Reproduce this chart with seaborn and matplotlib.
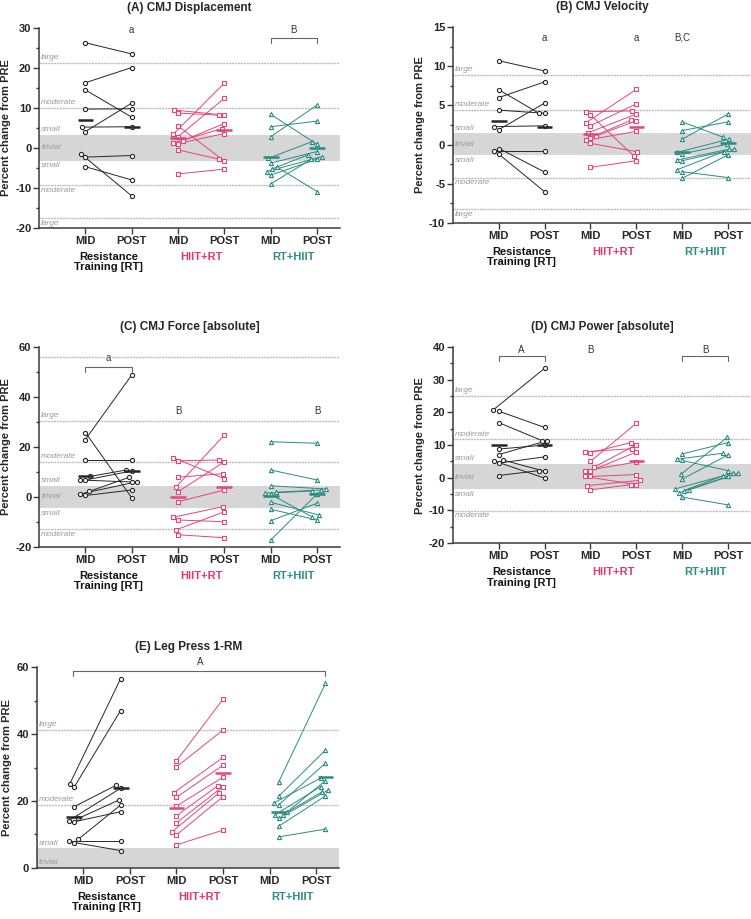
import pandas as pd
import seaborn as sns
import matplotlib.pyplot as plt
from matplotlib.ticker import MultipleLocator

sns.set_style("ticks")
plt.rcParams["font.family"] = ["Liberation Sans", "DejaVu Sans"]
plt.rcParams["font.weight"] = "bold"
plt.rcParams["axes.unicode_minus"] = False

# %%
# group names / styles
groups = ["Resistance\nTraining [RT]", "HIIT+RT", "RT+HIIT"]
timepoints = ["MID", "POST"]
group_colors = ["#262626", "#E4457A", "#2A8C83"]
label_colors = ["#111111", "#E8336F", "#2A8C83"]
group_markers = ["o", "s", "^"]

# (A) CMJ displacement - % change from PRE, paired MID/POST per participant
a_rt_mid = [26.3, 16.3, 14.5, 9.7, 5.2, 4.1, -1.5, -2.3, -4.7]
a_rt_post = [23.5, 20.1, 7.7, 9.8, 5.3, 11.2, -12.0, -1.9, -8.0]
a_hiit_mid = [9.5, 8.7, 5.5, 3.4, 2.8, 1.8, 1.2, 1.1, -0.5, -6.5]
a_hiit_post = [8.2, 8.2, -3.3, 16.2, 12.4, 6.1, 4.8, 3.6, -2.8, -5.3]
a_rth_mid = [8.4, 5.3, 2.8, -2.6, -3.8, -4.7, -5.3, -5.9, -6.8, -9.0]
a_rth_post = [0.9, 6.7, 10.7, 1.6, -0.9, -10.9, -1.7, -2.2, -2.8, -2.8]
a_centre = [[7.0, 5.3], [2.4, 4.6], [-2.2, -0.1]]

# (B) CMJ velocity
b_rt_mid = [10.7, 7.0, 6.0, 4.4, 2.3, 1.9, -0.5, -0.8, -1.2]
b_rt_post = [9.4, 4.0, 8.0, 4.0, 2.4, 5.3, -3.5, -0.8, -6.0]
b_hiit_mid = [4.2, 3.8, 2.8, 2.4, 1.5, 1.1, 0.9, 0.55, 0.16, -2.9]
b_hiit_post = [4.3, -1.45, 7.05, 5.2, 3.9, 3.05, 3.1, 1.7, -0.9, -2.05]
b_rth_mid = [2.9, 1.8, 0.7, -1.0, -1.2, -1.97, -2.05, -3.2, -3.45, -4.3]
b_rth_post = [0.93, 2.9, 3.9, 0.68, 0.04, -0.6, -0.6, -0.9, -4.2, -1.3]
b_centre = [[3.05, 2.25], [1.3, 2.2], [-1.0, 0.2]]

# (C) CMJ force [absolute]
c_rt_mid = [25.8, 23.0, 14.8, 8.2, 6.8, 6.8, 2.2, 1.2, 0.6]
c_rt_post = [-0.3, 48.8, 14.8, 10.8, 10.4, 6.0, 7.9, 6.1, 2.8]
c_hiit_mid = [15.7, 14.5, 7.9, 4.1, 2.1, -1.9, -8.1, -9.2, -13.2, -15.1]
c_hiit_post = [7.3, 14.8, 9.3, 24.8, 14.1, 2.8, -3.9, -9.9, -5.9, -16.3]
c_rth_mid = [22.1, 10.8, 4.5, 1.9, 1.5, 1.0, -2.1, -4.9, -9.5, -17.2]
c_rth_post = [21.5, 6.8, 3.2, 2.8, 2.4, -8.0, -7.2, -9.2, -2.5, 1.2]
c_centre = [[8.5, 10.4], [0.0, 3.9], [0.4, 1.1]]

# (D) CMJ power [absolute]
d_rt_mid = [20.8, 20.4, 16.9, 8.8, 7.1, 5.4, 5.2, 4.5, 0.7]
d_rt_post = [33.5, 15.4, 11.4, 10.0, 11.4, 2.0, -0.1, 6.4, 2.2]
d_hiit_mid = [8.0, 7.7, 5.0, 3.3, 2.2, 2.1, 0.4, 0.4, -2.4, -3.7]
d_hiit_post = [8.9, 10.8, 16.7, 10.1, 4.8, 7.9, 1.0, -2.1, -0.8, -2.1]
d_rth_mid = [7.3, 5.7, 5.3, 1.2, -0.4, -3.4, -3.7, -3.9, -4.6, -5.9]
d_rth_post = [10.8, 7.5, 2.2, 12.4, 7.0, 1.4, 1.4, 0.6, 0.5, -8.3]
d_centre = [[10.1, 10.0], [None, 5.2], [None, None]]

# (E) Leg press 1-RM
e_rt_mid = [25.1, 24.1, 18.3, 14.8, 14.1, 13.8, 8.6, 8.2, 7.6]
e_rt_post = [56.5, 47.0, 24.7, 20.3, 23.8, 16.8, 18.8, 8.2, 5.2]
e_hiit_mid = [32.0, 30.2, 22.5, 21.1, 18.5, 15.6, 13.5, 10.8, 9.9, 6.9]
e_hiit_post = [50.4, 41.2, 33.0, 30.7, 27.1, 24.5, 24.3, 22.5, 21.3, 11.3]
e_rth_mid = [25.8, 21.5, 18.9, 19.4, 16.8, 15.8, 15.9, 14.8, 12.5, 9.3]
e_rth_post = [55.1, 35.2, 31.3, 26.8, 26.1, 24.3, 22.8, 23.2, 21.5, 11.6]
e_centre = [[15.1, 24.0], [17.8, 28.3], [16.8, 27.2]]

# effect size thresholds (trivial band, reference lines) + labels
a_band, a_lines = (-3.2, 3.25), [10.1, -9.25, 21.2, -17.6]
b_band, b_lines = (-1.37, 1.44), [4.4, -4.2, 8.9, -8.25]
c_band, c_lines = (-4.5, 4.4), [14.1, -12.8, 30.5, 56.1]
d_band, d_lines = (-3.5, 4.2), [11.8, -10.1, 25.1]
e_band, e_lines = (0.0, 5.9), [18.8, 41.2]

a_es = [("large", 21.2, 1), ("moderate", 10.1, 1), ("small", 3.25, 1), ("trivial", 0, 0),
        ("small", -3.2, -1), ("moderate", -9.25, -1), ("large", -17.6, -1)]
b_es = [("large", 8.9, 1), ("moderate", 4.4, 1), ("small", 1.44, 1), ("trivial", 0, 0),
        ("small", -1.37, -1), ("moderate", -4.2, -1), ("large", -8.25, -1)]
c_es = [("large", 30.5, 1), ("moderate", 14.1, 1), ("small", 4.4, 1), ("trivial", 0, 0),
        ("small", -4.5, -1), ("moderate", -12.8, -1)]
d_es = [("large", 25.1, 1), ("moderate", 11.8, 1), ("small", 4.2, 1), ("trivial", 0, 0),
        ("small", -3.5, -1), ("moderate", -10.1, -1)]
e_es = [("large", 41.2, 1), ("moderate", 18.8, 1), ("small", 5.9, 1), ("trivial", 1.6, 0)]

# significance letters (x, y, text) and brackets (x0, x1, y)
a_notes, a_brackets = [(1, 29.6, "a"), (4.5, 29.5, "B")], [(4, 5, 27.6)]
b_notes, b_brackets = [(1, 13.6, "a"), (3, 13.6, "a"), (4, 13.6, "B,C")], []
c_notes, c_brackets = [(0.5, 55.6, "a"), (2, 34.4, "B"), (5, 34.4, "B")], [(0, 1, 52.1)]
d_notes, d_brackets = [(0.5, 39.0, "A"), (2, 39.0, "B"), (4.5, 39.0, "B")], [(0, 1, 37.3), (4, 5, 37.3)]
e_notes, e_brackets = [(2.5, 61.6, "A")], [(-0.23, 5.2, 58.9)]

# %%
panels = [
    dict(rect=[0.052, 0.752, 0.401, 0.2176], title="(A) CMJ Displacement", ylim=(-20, 30), major=10, minor=5,
         data=[(a_rt_mid, a_rt_post), (a_hiit_mid, a_hiit_post), (a_rth_mid, a_rth_post)],
         centre=a_centre, band=a_band, lines=a_lines, es=a_es, notes=a_notes, brackets=a_brackets,
         shift=[0, 0, 0]),
    dict(rect=[0.603, 0.7573, 0.397, 0.2133], title="(B) CMJ Velocity", ylim=(-10, 15), major=5, minor=2.5,
         data=[(b_rt_mid, b_rt_post), (b_hiit_mid, b_hiit_post), (b_rth_mid, b_rth_post)],
         centre=b_centre, band=b_band, lines=b_lines, es=b_es, notes=b_notes, brackets=b_brackets,
         shift=[0, 0, 0]),
    dict(rect=[0.052, 0.4048, 0.401, 0.2176], title="(C) CMJ Force [absolute]", ylim=(-20, 60), major=20, minor=10,
         data=[(c_rt_mid, c_rt_post), (c_hiit_mid, c_hiit_post), (c_rth_mid, c_rth_post)],
         centre=c_centre, band=c_band, lines=c_lines, es=c_es, notes=c_notes, brackets=c_brackets,
         shift=[0, 0, 0]),
    dict(rect=[0.603, 0.409, 0.397, 0.2133], title="(D) CMJ Power [absolute]", ylim=(-20, 40), major=10, minor=5,
         data=[(d_rt_mid, d_rt_post), (d_hiit_mid, d_hiit_post), (d_rth_mid, d_rth_post)],
         centre=d_centre, band=d_band, lines=d_lines, es=d_es, notes=d_notes, brackets=d_brackets,
         shift=[0, 0, 0]),
    dict(rect=[0.049, 0.0555, 0.403, 0.2187], title="(E) Leg Press 1-RM", ylim=(0, 60), major=20, minor=10,
         data=[(e_rt_mid, e_rt_post), (e_hiit_mid, e_hiit_post), (e_rth_mid, e_rth_post)],
         centre=e_centre, band=e_band, lines=e_lines, es=e_es, notes=e_notes, brackets=e_brackets,
         shift=[-0.2, 0, 0.2]),
]

fig = plt.figure(figsize=(7.51, 9.19), dpi=100)
spine_col = "#3a3a3a"
swarms = []

for p in panels:
    ax = fig.add_axes(p["rect"])
    ax.set_xlim(-1.0, 5.5)
    ax.set_ylim(*p["ylim"])

    # individual responses (swarm so that close values sit side by side)
    for g, (mid, post) in enumerate(p["data"]):
        pos = 2 * g + p["shift"][g]
        df = pd.DataFrame({"x": [pos] * len(mid) + [pos + 1] * len(post), "y": mid + post})
        n0 = len(ax.collections)
        sns.swarmplot(data=df, x="x", y="y", native_scale=True, orient="x",
                      color=group_colors[g], marker=group_markers[g], size=3.0,
                      linewidth=0.8, ax=ax, zorder=4, legend=False)
        new = ax.collections[n0:]
        for c in new:
            c.set_facecolor("white")
            c.set_edgecolor(group_colors[g])
            c.set_linewidth(0.8)
        swarms.append((ax, new[0], new[1], group_colors[g]))

        # group centre bars
        for t in range(2):
            v = p["centre"][g][t]
            if v is not None:
                ax.hlines(v, pos + t - 0.17, pos + t + 0.17, color=group_colors[g], lw=1.8, zorder=5)

    ax.set_xlim(-1.0, 5.5)
    ax.set_ylim(*p["ylim"])

    # effect size shading and lines
    ax.axhspan(*p["band"], color="#d6d6d6", lw=0, zorder=0)
    for y in p["lines"]:
        ax.axhline(y, color="#bdbdbd", lw=1.0, ls=(0, (1.5, 0.6)), zorder=1)
    for txt, y, side in p["es"]:
        va = {1: "bottom", 0: "center", -1: "top"}[side]
        ax.annotate(txt, xy=(0, y), xycoords=("axes fraction", "data"),
                    xytext=(1.5, 1.2 * side), textcoords="offset points",
                    ha="left", va=va, fontsize=6, style="italic", fontweight="normal",
                    color="#9a9a9a", zorder=2)

    # significance letters
    yr = p["ylim"][1] - p["ylim"][0]
    for x0, x1, y in p["brackets"]:
        d = 0.025 * yr
        ax.plot([x0, x0, x1, x1], [y - d, y, y, y - d], color="#666666", lw=0.8, clip_on=False, zorder=3)
    for x, y, txt in p["notes"]:
        ax.text(x, y, txt, ha="center", va="center", fontsize=7, fontweight="normal", color="#333333",
                clip_on=False, zorder=3,
                bbox=dict(facecolor="white", edgecolor="none", pad=0.6) if p["title"].startswith("(C)") and txt == "a" else None)

    # axes
    ax.set_xticks(range(6))
    ax.set_xticklabels(timepoints * 3, fontsize=8, fontweight="bold")
    ax.yaxis.set_major_locator(MultipleLocator(p["major"]))
    ax.yaxis.set_minor_locator(MultipleLocator(p["minor"]))
    ax.tick_params(axis="y", labelsize=8, length=4, width=1, color=spine_col, pad=1.5)
    ax.tick_params(axis="y", which="minor", length=2.5, width=1, color=spine_col)
    ax.tick_params(axis="x", length=4, width=1, color=spine_col, pad=2)
    ax.set_xlabel("")
    ax.set_ylabel("Percent change from PRE", fontsize=8, fontweight="bold", labelpad=3)
    ax.set_title(p["title"], fontsize=8.5, fontweight="bold", pad=12)
    for g in range(3):
        ax.annotate(groups[g], xy=(2 * g + 0.5, 0), xycoords=("data", "axes fraction"),
                    xytext=(0, -17), textcoords="offset points", ha="center", va="top",
                    fontsize=8, fontweight="bold", color=label_colors[g], linespacing=1.1,
                    annotation_clip=False)
    sns.despine(ax=ax)
    for s in ["left", "bottom"]:
        ax.spines[s].set_color(spine_col)
        ax.spines[s].set_linewidth(1.1)

# connect each participant's MID and POST values
fig.canvas.draw()
for ax, c_mid, c_post, col in swarms:
    for (x0, y0), (x1, y1) in zip(c_mid.get_offsets(), c_post.get_offsets()):
        ax.plot([x0, x1], [y0, y1], color=col, lw=0.7, zorder=3)

fig.savefig("out.png", dpi=100)
